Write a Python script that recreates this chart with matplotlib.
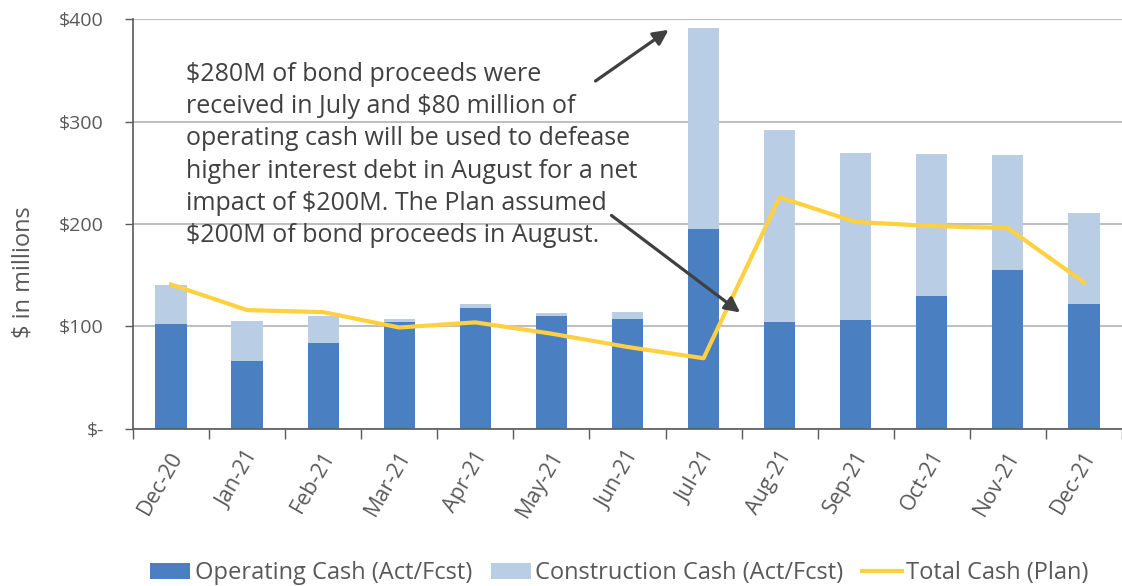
import matplotlib
matplotlib.use("Agg")
import matplotlib.pyplot as plt
import matplotlib.transforms as mtransforms
import numpy as np

plt.rcParams['font.family'] = ['Open Sans', 'DejaVu Sans']

months = ["Dec-20", "Jan-21", "Feb-21", "Mar-21", "Apr-21", "May-21", "Jun-21",
          "Jul-21", "Aug-21", "Sep-21", "Oct-21", "Nov-21", "Dec-21"]
operating = [102, 66, 84, 104, 118, 110, 107, 195, 104, 106, 130, 155, 122]
totals = [140, 105, 110, 107, 122, 113, 114, 391, 292, 269, 268, 267, 211]
construction = [t - o for t, o in zip(totals, operating)]
plan = [141, 116, 114, 99, 104, 93, 80, 69, 226, 202, 198, 196, 143]
yticks = [0, 100, 200, 300, 400]
ytick_labels = ["$-", "$100", "$200", "$300", "$400"]

note = ("\\$280M of bond proceeds were\n"
        "received in July and \\$80 million of\n"
        "operating cash will be used to defease\n"
        "higher interest debt in August for a net\n"
        "impact of \\$200M. The Plan assumed\n"
        "\\$200M of bond proceeds in August.")

op_color = "#4A7FC1"
con_color = "#B9CDE5"
line_color = "#FFD040"
text_color = "#595959"

fig = plt.figure(figsize=(11.22, 5.86), dpi=100)
ax = fig.add_axes([0.1185, 0.268, 0.8815, 0.6995])

x = np.arange(len(months))
ax.bar(x, operating, width=0.41, color=op_color, label="Operating Cash (Act/Fcst)", zorder=2)
ax.bar(x, construction, width=0.41, bottom=operating, color=con_color,
       label="Construction Cash (Act/Fcst)", zorder=2)
ax.plot(x, plan, color=line_color, lw=3, label="Total Cash (Plan)", zorder=3)

ax.set_xlim(-0.5, len(months) - 0.5)
ax.set_ylim(0, 400)
ax.set_yticks(yticks)
ax.set_yticklabels(ytick_labels)
ax.yaxis.grid(True, color="#BFBFBF", lw=1.5, zorder=0)
ax.set_axisbelow(True)

ax.set_xticks(x)
ax.set_xticklabels(months, rotation=60, ha="right", va="center", rotation_mode="anchor")
ax.set_xticks(np.arange(len(months) + 1) - 0.5, minor=True)
ax.tick_params(axis="x", which="major", length=0, pad=17, labelsize=15.5, labelcolor=text_color)
ax.tick_params(axis="x", which="minor", length=7, color="#595959", width=1)
ax.tick_params(axis="y", length=6, color="#595959", width=1, labelsize=14,
               labelcolor=text_color, pad=15)
shift = mtransforms.ScaledTranslation(7 / 100, 0, fig.dpi_scale_trans)
for lab in ax.get_xticklabels():
    lab.set_transform(lab.get_transform() + shift)

for s in ["top", "right"]:
    ax.spines[s].set_visible(False)
for s in ["left", "bottom"]:
    ax.spines[s].set_color("#595959")
    ax.spines[s].set_linewidth(1.2)

fig.text(0.021, 0.536, "$ in millions", rotation=90, va="center", ha="center",
         fontsize=17, color=text_color)

ax.text(0.2, 182.5, note, fontsize=18, color="#404040", va="baseline", ha="left",
        linespacing=1.377, zorder=5)

arrow_kw = dict(arrowstyle="-|>,head_length=0.9,head_width=0.45", color="#404040", lw=2.3)
ax.annotate("", xy=(6.57, 391), xytext=(5.55, 338), arrowprops=arrow_kw, zorder=6)
ax.annotate("", xy=(7.51, 112), xytext=(5.76, 210), arrowprops=arrow_kw, zorder=6)

handles, labels = ax.get_legend_handles_labels()
order = [1, 2, 0]
leg = fig.legend([handles[i] for i in order], [labels[i] for i in order],
                 loc="lower center", bbox_to_anchor=(0.552, -0.035), ncol=3, frameon=False,
                 fontsize=17, handlelength=1.7, handletextpad=0.17, columnspacing=0.8,
                 labelcolor=text_color)

fig.savefig("out.png", dpi=100)
